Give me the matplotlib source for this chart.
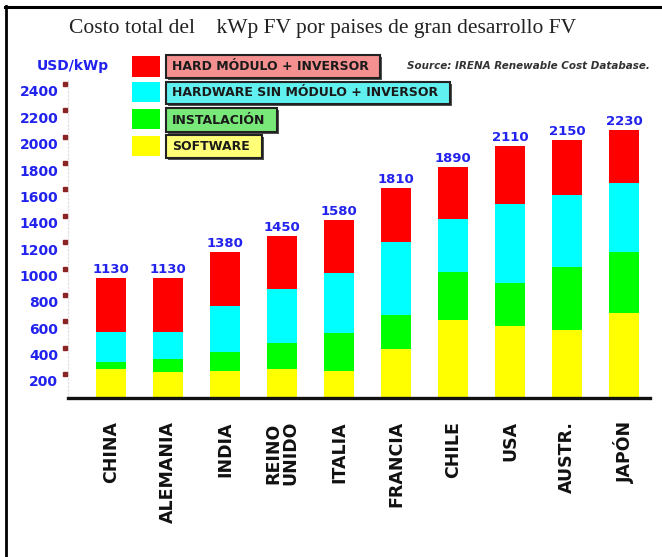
import matplotlib
matplotlib.use('Agg')
import matplotlib.pyplot as plt
from matplotlib.patches import Rectangle
from matplotlib.lines import Line2D
import matplotlib.transforms as mtransforms

# ---------------- data ----------------
categories = ['CHINA', 'ALEMANIA', 'INDIA', 'REINO\nUNIDO', 'ITALIA',
              'FRANCIA', 'CHILE', 'USA', 'AUSTR.', 'JAPÓN']
total_labels = [1130, 1130, 1380, 1450, 1580, 1810, 1890, 2110, 2150, 2230]
# segment heights as drawn on the chart's axis
software = [291, 266, 278, 289, 276, 440, 663, 617, 587, 714]
instalacion = [55, 101, 144, 202, 290, 261, 362, 324, 476, 467]
hardware_sin = [224, 203, 349, 405, 451, 556, 402, 600, 548, 524]
hard_modulo = [409, 409, 410, 404, 404, 405, 397, 442, 415, 399]
yticks = [200, 400, 600, 800, 1000, 1200, 1400, 1600, 1800, 2000, 2200, 2400]
series_names = ['HARD MÓDULO + INVERSOR', 'HARDWARE SIN MÓDULO + INVERSOR',
                'INSTALACIÓN', 'SOFTWARE']

# ---------------- style ----------------
W, H = 662, 557
DPI = 100
BLUE = '#2222ee'
bar_colors = ['#ff0000', '#00ffff', '#00ff00', '#ffff00']
box_colors = ['#f49090', '#60f0f0', '#78e878', '#ffff78']


def fx(x):
    return x / W


def fy(y):
    return 1 - y / H


fig = plt.figure(figsize=(W / DPI, H / DPI), dpi=DPI)
fig.patch.set_facecolor('white')

ax_top, ax_bot = 77.8, 398.1
ax = fig.add_axes([fx(68), fy(ax_bot), (650 - 68) / W, (ax_bot - ax_top) / H])

x = list(range(len(categories)))
width = 0.51
bottom = [0] * len(x)
series = [software, instalacion, hardware_sin, hard_modulo]
colors = [bar_colors[3], bar_colors[2], bar_colors[1], bar_colors[0]]
for vals, col in zip(series, colors):
    ax.bar(x, vals, width, bottom=bottom, color=col, linewidth=0, zorder=2)
    bottom = [b + v for b, v in zip(bottom, vals)]

for xi, top, lab in zip(x, bottom, total_labels):
    ax.annotate(str(lab), xy=(xi, top), xytext=(0, 1.5), textcoords='offset points',
                ha='center', va='bottom', fontsize=9.5, fontweight='bold', color=BLUE)

ax.set_xlim(-0.754, 9.456)
ax.set_ylim(70, 2500)

ax.set_yticks(yticks)
ax.set_yticklabels([str(t) for t in yticks], fontsize=10, fontweight='bold', color=BLUE)
ax.tick_params(axis='y', length=0, pad=7)
ax.set_xticks(x)
ax.set_xticklabels(categories, rotation=90, fontsize=12.5, fontweight='bold',
                   color='#111111', va='top', ha='center', linespacing=0.95)
ax.tick_params(axis='x', length=0, pad=16.5)

for s in ['top', 'right']:
    ax.spines[s].set_visible(False)
ax.spines['left'].set_color('#e4e4e4')
ax.spines['left'].set_linestyle(':')
ax.spines['left'].set_linewidth(1.0)
ax.spines['bottom'].set_color('#111111')
ax.spines['bottom'].set_linewidth(2.4)
ax.spines['bottom'].set_zorder(3)

# small tick squares
offset = mtransforms.ScaledTranslation(0, 7 / DPI, fig.dpi_scale_trans)
trans = mtransforms.blended_transform_factory(ax.transAxes, ax.transData) + offset
ax.plot([-0.0045] * len(yticks), yticks, 's', color='#8b2525', markersize=3,
        transform=trans, clip_on=False, zorder=4)

# ---------------- texts ----------------
fig.text(fx(323), fy(28), 'Costo total del    kWp FV por paises de gran desarrollo FV',
         family='Liberation Serif', fontsize=15.5, ha='center', va='center', color='#222222')
fig.text(fx(72.5), fy(66), 'USD/kWp', fontsize=10, fontweight='bold', color=BLUE,
         ha='center', va='center')
fig.text(fx(407), fy(66), 'Source: IRENA Renewable Cost Database.', fontsize=7.5,
         fontweight='bold', style='italic', color='#333333', ha='left', va='center')

# ---------------- legend ----------------
sw_rows = [(56, 76.7), (82.3, 102.3), (109, 129.3), (135.7, 156)]
box_rows = [(55, 78.3), (81.7, 104.3), (108.3, 131.7), (135, 158.3)]
box_right = [380, 450, 276.7, 261.7]
for i, name in enumerate(series_names):
    y0, y1 = sw_rows[i]
    fig.patches.append(Rectangle((fx(131.7), fy(y1)), (160 - 131.7) / W, (y1 - y0) / H,
                                 transform=fig.transFigure, facecolor=bar_colors[i],
                                 edgecolor='none', zorder=2))
    b0, b1 = box_rows[i]
    bw = (box_right[i] - 165.7) / W
    bh = (b1 - b0) / H
    fig.patches.append(Rectangle((fx(165.7 + 2), fy(b1 + 2)), bw, bh,
                                 transform=fig.transFigure, facecolor='#555555',
                                 edgecolor='none', zorder=2))
    fig.patches.append(Rectangle((fx(165.7), fy(b1)), bw, bh,
                                 transform=fig.transFigure, facecolor=box_colors[i],
                                 edgecolor='#222222', linewidth=1.5, zorder=3))
    fig.text(fx(172), fy((b0 + b1) / 2), name, fontsize=9, fontweight='bold',
             color='#1a1a1a', ha='left', va='center', zorder=4)

# ---------------- frame ----------------
fig.lines.append(Line2D([fx(5), fx(662)], [fy(6.5), fy(6.5)], transform=fig.transFigure,
                        color='black', linewidth=2.2))
fig.lines.append(Line2D([fx(6), fx(6)], [fy(5.5), fy(557)], transform=fig.transFigure,
                        color='black', linewidth=2.0))

fig.savefig('out.png', dpi=DPI, facecolor='white')
